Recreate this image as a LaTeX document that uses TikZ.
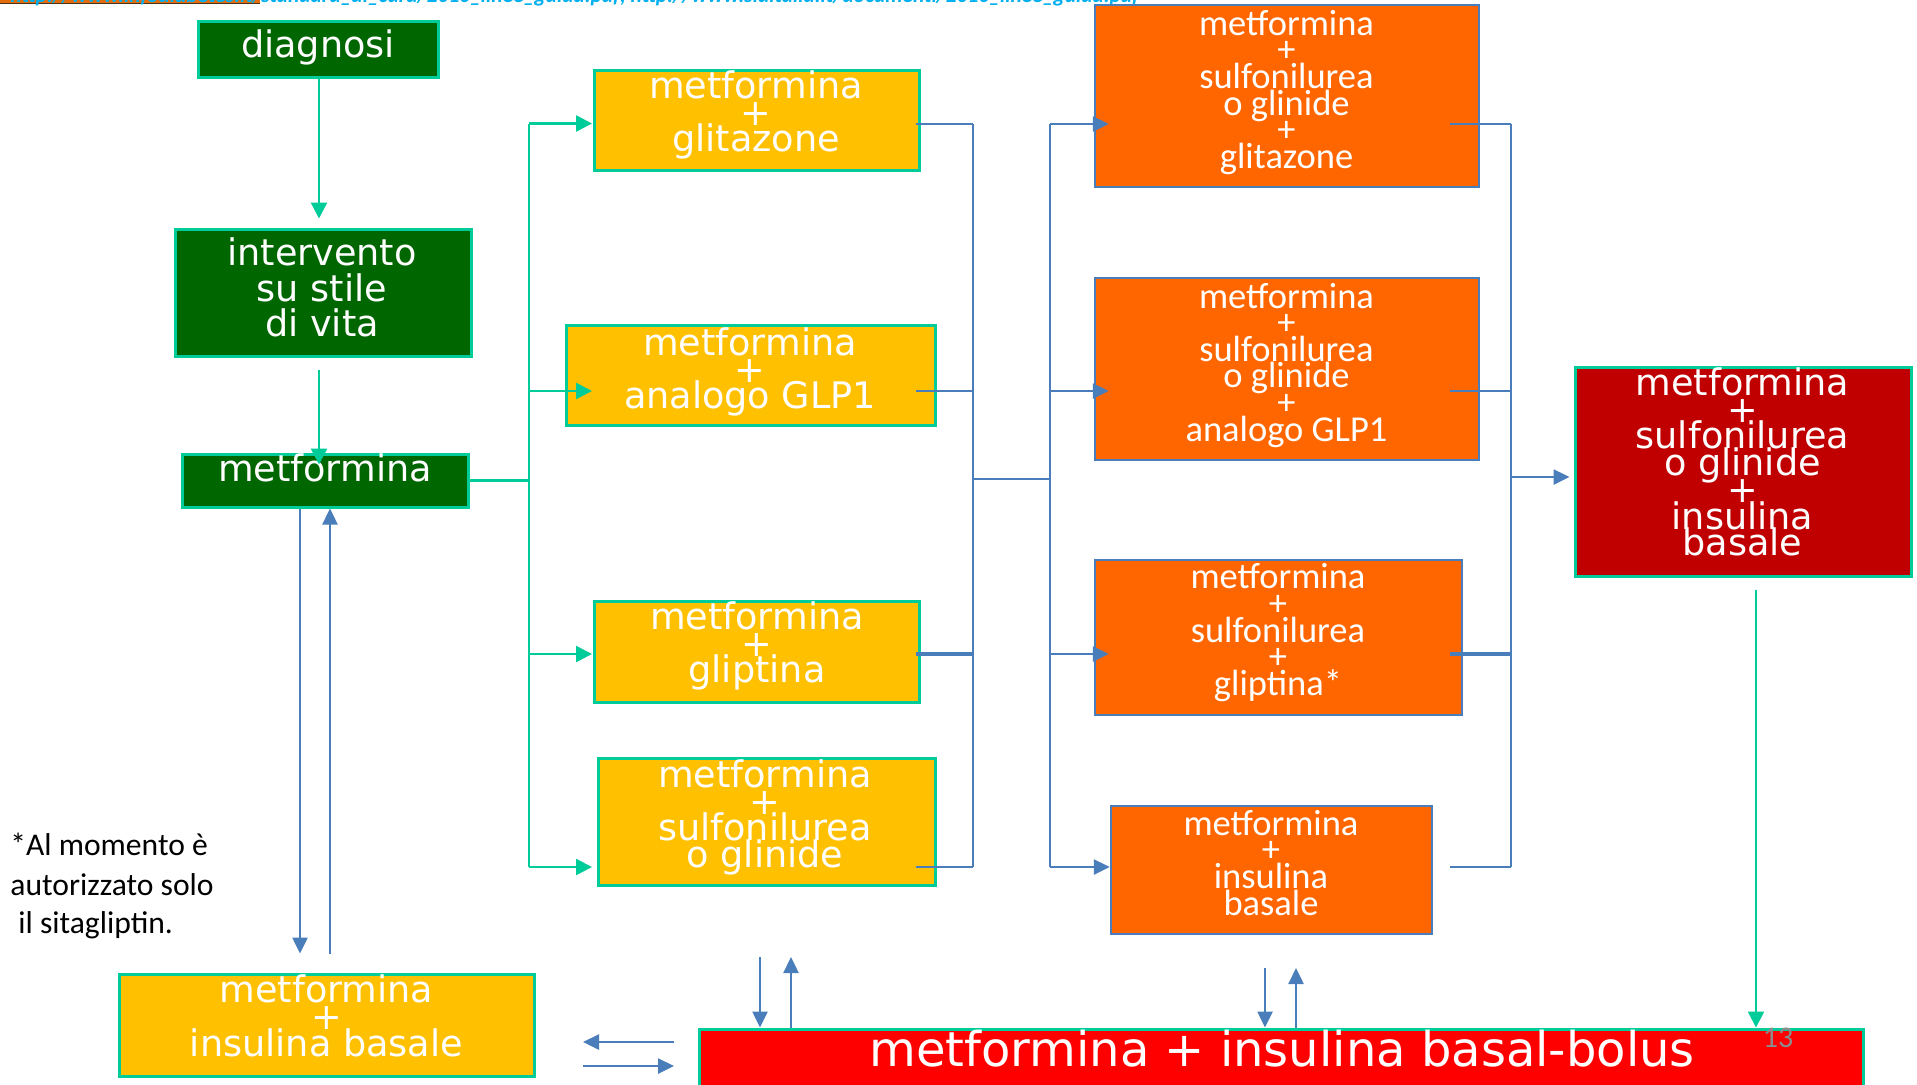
\documentclass[tikz,border=0pt]{standalone}
\usepackage{fontspec}
\setmainfont{DejaVu Sans}
\newfontfamily\carl{Carlito}
\usetikzlibrary{arrows.meta,calc}
\definecolor{mint}{RGB}{0,204,153}
\definecolor{dgreen}{RGB}{0,102,0}
\definecolor{yell}{RGB}{255,192,0}
\definecolor{orng}{RGB}{255,102,0}
\definecolor{bblue}{RGB}{74,126,187}
\definecolor{dred}{RGB}{192,0,0}
\definecolor{bred}{RGB}{255,0,0}
\definecolor{urlblue}{RGB}{0,176,240}
\definecolor{hilite}{RGB}{228,108,10}
\definecolor{pgnum}{RGB}{140,140,140}
\begin{document}
\begin{tikzpicture}[x=0.5pt,y=-0.5pt,
  box/.style={draw, rectangle, inner sep=0pt, line width=1.5pt},
  gbox/.style={box, fill=dgreen, draw=mint},
  ybox/.style={box, fill=yell, draw=mint},
  obox/.style={box, fill=orng, draw=bblue, line width=1.25pt},
  rbox/.style={box, fill=dred, draw=mint},
  barbox/.style={box, fill=bred, draw=mint},
  btxt/.style={text=white, align=center, inner sep=0pt, font={\fontsize{18.3}{13.25}\selectfont\lineskiplimit=-100pt}},
  otxt/.style={btxt, font={\carl\fontsize{18.25}{13.3}\selectfont\lineskiplimit=-100pt}},
  ntxt/.style={anchor=base west, inner sep=0pt, font={\carl\fontsize{15.8}{19.75}\selectfont}},
  gline/.style={draw=mint, line width=1.25pt},
  garrow/.style={gline, -{Triangle[length=8pt,width=8pt]}},
  bline/.style={draw=bblue, line width=1.25pt},
  bthick/.style={draw=bblue, line width=2pt},
  barrow/.style={bline, -{Triangle[length=8pt,width=7.5pt]}}
]
\useasboundingbox (0,0) rectangle (1917,1084);
\fill[white] (0,0) rectangle (1917,1084);

% header reference (cut off at top)
\fill[hilite] (0,-4) rectangle (260,3.5);
\draw[black!60!brown, line width=0.6pt] (0,3.8) -- (260,3.8);
\node[anchor=base west, inner sep=0pt, text=urlblue, font={\carl\bfseries\itshape\fontsize{10.7}{11}\selectfont}] (url) at (10,2.5)
  {http://www.infodiabetes.it/standard\_di\_cura/2010\_linee\_guida.pdf; http://www.siditalia.it/documenti/2010\_linee\_guida.pdf};

% boxes
\node[gbox, minimum width=120pt, minimum height=28pt] (diag) at (318,49) {};
\node[gbox, minimum width=148pt, minimum height=63.5pt] (interv) at (323,292.5) {};
\node[gbox, minimum width=143pt, minimum height=26.5pt] (metf) at (325,480.5) {};
\node[ybox, minimum width=162.5pt, minimum height=50pt] (y1) at (756.5,120) {};
\node[ybox, minimum width=184.5pt, minimum height=50pt] (y2) at (750.5,375) {};
\node[ybox, minimum width=162.5pt, minimum height=50.5pt] (y3) at (756.5,651.5) {};
\node[ybox, minimum width=168.5pt, minimum height=63.5pt] (y4) at (766.5,821.5) {};
\node[obox, minimum width=192pt, minimum height=91pt] (o1) at (1287,96) {};
\node[obox, minimum width=192pt, minimum height=91pt] (o2) at (1287,369) {};
\node[obox, minimum width=183.5pt, minimum height=77.5pt] (o3) at (1278.5,637.5) {};
\node[obox, minimum width=160.5pt, minimum height=64pt] (o4) at (1271.5,870) {};
\node[rbox, minimum width=168pt, minimum height=104.5pt] (dr) at (1743,471.5) {};
\node[ybox, minimum width=207.5pt, minimum height=51pt] (yb) at (326.5,1025) {};
\node[barbox, minimum width=582pt, minimum height=35.5pt] (rb) at (1281,1064.5) {};

% texts
\node[btxt, anchor=base] (tdiag) at (318,57) {diagnosi};
\node[btxt, font={\fontsize{18.3}{17.75}\selectfont\lineskiplimit=-100pt}] (tinterv) at (322,287.6) {intervento\\su stile\\di vita};
\node[btxt, anchor=base] (tmetf) at (325,481) {metformina};
\node[btxt] (ty1) at (756,114.9) {metformina\\+\\glitazone};
\node[btxt] (ty2) at (750,372) {metformina\\+\\analogo GLP1};
\node[btxt] (ty3) at (757,646) {metformina\\+\\gliptina};
\node[btxt] (ty4) at (765,817.4) {metformina\\+\\sulfonilurea\\o glinide};
\node[otxt] (to1) at (1286.5,92.3) {metformina\\+\\sulfonilurea\\o glinide\\+\\glitazone};
\node[otxt] (to2) at (1286.5,365.2) {metformina\\+\\sulfonilurea\\o glinide\\+\\analogo GLP1};
\node[otxt] (to3) at (1278,632.7) {metformina\\+\\sulfonilurea\\+\\gliptina*};
\node[otxt] (to4) at (1271,862.7) {metformina\\+\\insulina\\basale};
\node[btxt, font={\fontsize{18.3}{13.35}\selectfont\lineskiplimit=-100pt}] (tdr) at (1742.5,462) {metformina\\+\\sulfonilurea\\o glinide\\+\\insulina\\basale};
\node[btxt, font={\fontsize{18.3}{13.5}\selectfont\lineskiplimit=-100pt}] (tyb) at (326.5,1016) {metformina\\+\\insulina basale};
\node[btxt, anchor=base, font={\fontsize{24}{24}\selectfont}] (trb) at (1282,1066) {metformina + insulina basal-bolus};

\node[ntxt] (note1) at (10,855) {*Al momento è};
\node[ntxt] (note2) at (10,895) {autorizzato solo};
\node[ntxt] (note3) at (18,933) {il sitagliptin.};
\node[anchor=base, inner sep=0pt, text=pgnum, font={\carl\fontsize{15}{15}\selectfont}] (pg) at (1778,1047) {13};

% green connectors
\draw[garrow] ([xshift=0.5pt]diag.south) -- ([xshift=0.5pt,yshift=4.5pt]diag.south |- interv.north);
\draw[garrow] ([xshift=-2pt,yshift=-6pt]interv.south) -- ([xshift=-2pt,yshift=-6pt]interv.south |- metf.north);
\coordinate (gtop) at (529,123.5);
\coordinate (gbot) at (529,867);
\coordinate (ga1) at (592,123.5);
\coordinate (ga2) at (592,391);
\coordinate (ga3) at (592,654);
\coordinate (ga4) at (592,867);
\draw[gline] (metf.east) -- (metf.east -| gtop);
\draw[gline] (gtop) -- (gbot);
\draw[garrow] (gtop) -- (ga1);
\draw[garrow] (ga2 -| gtop) -- (ga2);
\draw[garrow] (ga3 -| gtop) -- (ga3);
\draw[garrow] (gbot) -- (ga4);
\draw[garrow] ([xshift=6.5pt,yshift=-6pt]dr.south) -- ([xshift=6.5pt]dr.south |- rb.north);

% blue middle tree
\coordinate (m1) at (973,124);
\coordinate (m2) at (973,391);
\coordinate (m3) at (973,654);
\coordinate (m4) at (973,867);
\coordinate (mj) at (973,479);
\coordinate (n1) at (1050,124);
\coordinate (n4) at (1050,867);
\draw[bline] ([xshift=-2.5pt]y1.east |- m1) -- (m1);
\draw[bline] ([xshift=-10.5pt]y2.east |- m2) -- (m2);
\draw[bthick] ([xshift=-2.5pt]y3.east |- m3) -- (m3);
\draw[bline] ([xshift=-10.5pt]y4.east |- m4) -- (m4);
\draw[bline] (m1) -- (m4);
\draw[bline] (mj) -- (mj -| n1);
\draw[bline] (n1) -- (n4);
\draw[barrow] (n1) -- ([xshift=7.5pt]o1.west |- n1);
\draw[barrow] (n1 |- m2) -- ([xshift=7.5pt]o2.west |- m2);
\draw[barrow] (n1 |- m3) -- ([xshift=7.5pt]o3.west |- m3);
\draw[barrow] (n4) -- (o4.west |- n4);

% blue right tree
\coordinate (q1) at (1511,124);
\coordinate (q4) at (1511,867);
\coordinate (qj) at (1511,477);
\draw[bline] ([xshift=-15pt]o1.east |- q1) -- (q1);
\draw[bline] ([xshift=-15pt]o2.east |- m2) -- (q1 |- m2);
\draw[bthick] ([xshift=-6.5pt]o3.east |- m3) -- (q1 |- m3);
\draw[bline] ([xshift=8.5pt]o4.east |- q4) -- (q4);
\draw[bline] (q1) -- (q4);
\draw[barrow] (qj) -- ([xshift=-2pt]dr.west |- qj);

% blue arrows at the bottom
\coordinate (vd1) at ($(metf.south)+(-25,0)$);
\coordinate (vu1) at ($(metf.south)+(5,0)$);
\coordinate (ve) at ($(yb.north)+(0,-19)$);
\draw[barrow] (vd1) -- (vd1 |- ve);
\draw[barrow] (vu1 |- ve) -- (vu1);
\coordinate (hL1) at (583,1042);
\coordinate (hR1) at (674,1042);
\coordinate (hL2) at (583,1066);
\coordinate (hR2) at (674,1066);
\draw[barrow] (hR1) -- (hL1);
\draw[barrow] (hL2) -- (hR2);
\coordinate (p1) at (760,957);
\coordinate (p2) at (791,957);
\coordinate (p3) at (1265,968);
\coordinate (p4) at (1296,968);
\draw[barrow] (p1) -- (p1 |- rb.north);
\draw[barrow] (p2 |- rb.north) -- (p2);
\draw[barrow] (p3) -- (p3 |- rb.north);
\draw[barrow] (p4 |- rb.north) -- (p4);
\end{tikzpicture}
\end{document}
